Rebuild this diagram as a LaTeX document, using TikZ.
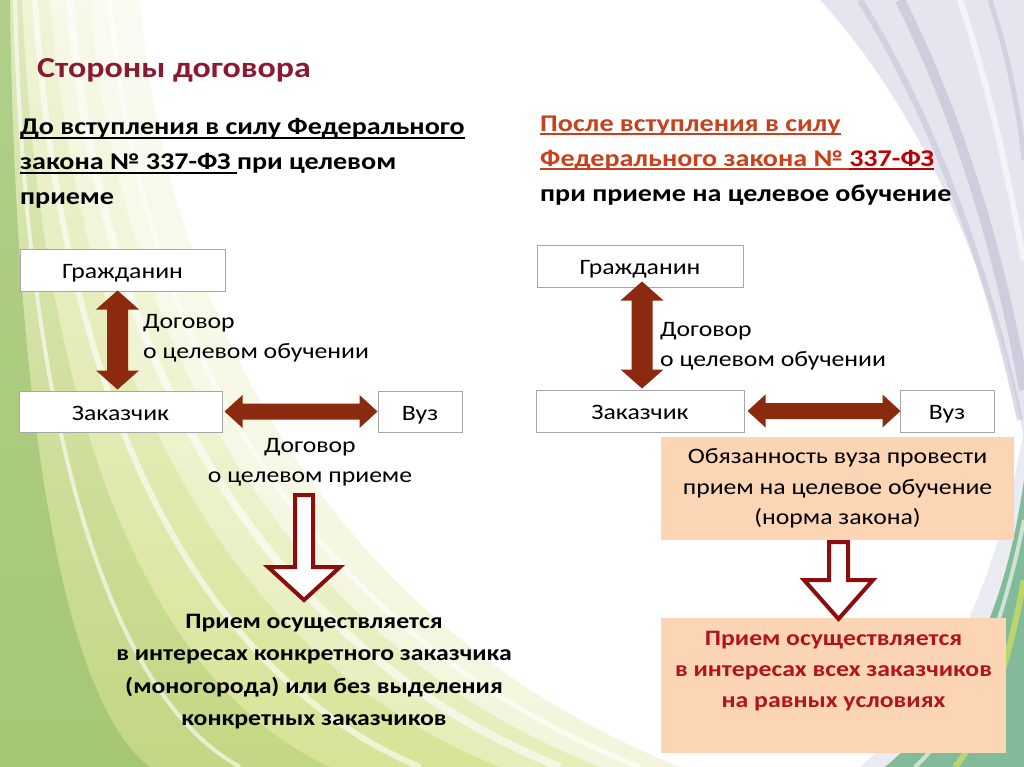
\documentclass[tikz,border=0pt]{standalone}
\usepackage{fontspec}
\setmainfont{Carlito}[FakeStretch=1.17]
\usetikzlibrary{calc}
\definecolor{arrowc}{HTML}{8B2A0E}
\definecolor{hollowc}{HTML}{8B0D0D}
\definecolor{titlec}{HTML}{8B1A30}
\definecolor{orangec}{HTML}{C8401C}
\definecolor{redc}{HTML}{C00000}
\definecolor{darkredc}{HTML}{B0141C}
\definecolor{peach}{HTML}{FCD5B4}
\definecolor{boxline}{HTML}{A6A6A6}
\definecolor{bgA}{HTML}{F3F5DC}
\definecolor{bgB}{HTML}{E4EBB0}
\definecolor{bgC}{HTML}{D3E08A}
\definecolor{bgD}{HTML}{B9D27A}
\definecolor{bgE}{HTML}{93BE6A}
\definecolor{bgL}{HTML}{E3E3EE}
\definecolor{bgLd}{HTML}{C4C4D8}
\definecolor{bgT}{HTML}{6FB38A}
\definecolor{bgY}{HTML}{C8DC60}
\newcommand\myul[1]{\setbox0=\hbox{#1}\leavevmode\rlap{\rule[-4pt]{\wd0}{1.8pt}}\box0}
\tikzset{
  whitebox/.style={draw=boxline, fill=white, line width=1pt, inner sep=0pt,
    text height=20pt, text depth=3pt, font=\fontsize{22}{26}\selectfont},
  peachbox/.style={fill=peach, inner sep=0pt},
  lbl/.style={inner sep=0pt, font=\fontsize{22}{30}\selectfont},
  heading/.style={inner sep=0pt, align=left, font=\fontsize{24}{35}\bfseries\selectfont},
  streak/.style={white, line width=#1, opacity=.6},
}
\newcommand\vdbl[2]{%
  \fill[arrowc] let \p1=#1, \p2=#2 in
   (\x1,\y1) -- (\x1+21.5pt,\y1-19pt) -- (\x1+10.5pt,\y1-19pt) -- (\x1+10.5pt,\y2+19pt)
   -- (\x1+21.5pt,\y2+19pt) -- (\x1,\y2) -- (\x1-21.5pt,\y2+19pt) -- (\x1-10.5pt,\y2+19pt)
   -- (\x1-10.5pt,\y1-19pt) -- (\x1-21.5pt,\y1-19pt) -- cycle;}
\newcommand\hdbl[2]{%
  \fill[arrowc] let \p1=#1, \p2=#2 in
   (\x1,\y1) -- (\x1+18pt,\y1+16.5pt) -- (\x1+18pt,\y1+8pt) -- (\x2-18pt,\y1+8pt)
   -- (\x2-18pt,\y1+16.5pt) -- (\x2,\y1) -- (\x2-18pt,\y1-16.5pt) -- (\x2-18pt,\y1-8pt)
   -- (\x1+18pt,\y1-8pt) -- (\x1+18pt,\y1-16.5pt) -- cycle;}
% #1 top, #2 tip, #3 half head width, #4 half shaft width, #5 head length
\newcommand\hollowarrow[5]{%
  \draw[hollowc, line width=4pt, fill=white, line join=miter] let \p1=#1, \p2=#2 in
   (\x1-#4pt,\y1) -- (\x1+#4pt,\y1) -- (\x1+#4pt,\y2+#5pt) -- (\x1+#3pt,\y2+#5pt)
   -- (\x1,\y2) -- (\x1-#3pt,\y2+#5pt) -- (\x1-#4pt,\y2+#5pt) -- cycle;}
\begin{document}
\begin{tikzpicture}[x=1pt,y=-1pt]
\useasboundingbox (0,0) rectangle (1024,767);
% ---------- background ----------
\fill[white] (0,0) rectangle (1024,767);
\shade[top color=bgA!40!white, bottom color=bgA] (0,0) -- (140,0) .. controls (170,350) and (360,640) .. (680,767) -- (0,767) -- cycle;
\shade[top color=bgB!30!white, bottom color=bgB, opacity=.8] (0,0) -- (90,0) .. controls (120,360) and (300,650) .. (600,767) -- (0,767) -- cycle;
\shade[top color=bgC!40!white, bottom color=bgC, opacity=.7] (0,0) -- (50,0) .. controls (80,380) and (230,660) .. (500,767) -- (0,767) -- cycle;
\shade[top color=bgD!60!white, bottom color=bgD, opacity=.65] (0,0) -- (22,0) .. controls (40,400) and (140,680) .. (330,767) -- (0,767) -- cycle;
\fill[bgE, opacity=.6] (0,0) -- (10,0) .. controls (15,400) and (60,700) .. (150,767) -- (0,767) -- cycle;
\draw[streak=8] (70,0) .. controls (100,370) and (270,650) .. (560,767);
\draw[streak=5] (110,0) .. controls (140,360) and (320,640) .. (640,767);
\draw[streak=6] (35,0) .. controls (60,390) and (190,670) .. (420,767);
\draw[streak=4] (15,0) .. controls (25,400) and (100,690) .. (240,767);
\fill[bgL, opacity=.9] (820,0) -- (1024,0) -- (1024,440) .. controls (1000,300) and (930,120) .. (820,0) -- cycle;
\draw[bgLd, line width=10pt, opacity=.7] (900,0) .. controls (975,150) and (1008,300) .. (1024,390);
\draw[bgLd, line width=6pt, opacity=.6] (860,0) .. controls (940,130) and (990,280) .. (1020,420);
\draw[bgLd, line width=5pt, opacity=.6] (990,0) .. controls (1010,60) and (1020,120) .. (1024,160);
\draw[streak=6] (960,0) .. controls (1000,120) and (1015,220) .. (1024,260);
\fill[bgL, opacity=.7] (1024,430) .. controls (1000,560) and (960,680) .. (860,767) -- (1024,767) -- cycle;
\fill[bgT, opacity=.85] (1024,480) .. controls (1005,610) and (965,700) .. (885,767) -- (1024,767) -- cycle;
\draw[bgY, line width=6pt, opacity=.8] (1024,580) .. controls (1005,680) and (985,730) .. (955,767);
\draw[streak=4] (1024,520) .. controls (1000,640) and (965,720) .. (915,767);
% ---------- title and headings ----------
\node[anchor=base west, inner sep=0pt, text=titlec, font=\fontsize{29}{32}\bfseries\selectfont] (title) at (37,78) {Стороны договора};
\node[heading, anchor=north west] (hl) at (20,118.5)
  {\myul{До вступления в силу Федерального}\\\myul{закона № 337-ФЗ }при целевом\\приеме};
\node[heading, anchor=north west] (hr) at (540,115.5)
  {\color{orangec}\myul{После вступления в силу}\\{\color{orangec}\myul{Федерального закона № }}{\color{redc}\myul{337-ФЗ}}\\при приеме на целевое обучение};
% ---------- left scheme ----------
\node[whitebox, minimum width=205, minimum height=42] (g1) at (122.5,270) {Гражданин};
\node[whitebox, minimum width=203, minimum height=41] (z1) at (120.5,411.5) {Заказчик};
\node[whitebox, minimum width=84, minimum height=41] (v1) at (420,411.5) {Вуз};
\vdbl{($(g1.south)+(-5,-1)$)}{($(z1.north)+(-3,-1)$)}
\hdbl{($(z1.east)+(2,0)$)}{($(v1.west)+(0,0)$)}
\node[lbl, anchor=north west, align=left] (c1) at (143,314.5) {Договор\\о целевом обучении};
\node[lbl, anchor=north, align=center] (c2) at (310,438.5) {Договор\\о целевом приеме};
\node[inner sep=0pt, align=center, font=\fontsize{22}{32.3}\bfseries\selectfont] (r1) at (314,671.5)
  {Прием осуществляется\\в интересах конкретного заказчика\\(моногорода) или без выделения\\конкретных заказчиков};
\coordinate (d1a) at (304,495);
\coordinate (d1b) at (304,600);
\hollowarrow{(d1a)}{(d1b)}{36}{9}{33}
% ---------- right scheme ----------
\node[whitebox, minimum width=206, minimum height=42] (g2) at (640,266) {Гражданин};
\node[whitebox, minimum width=208, minimum height=42] (z2) at (640,411) {Заказчик};
\node[whitebox, minimum width=94, minimum height=42] (v2) at (947,411) {Вуз};
\vdbl{($(g2.south)+(2,-6)$)}{($(z2.north)+(2,-1)$)}
\hdbl{($(z2.east)+(3,0)$)}{($(v2.west)+(1,0)$)}
\node[lbl, anchor=north west, align=left] (c3) at (660,322.5) {Договор\\о целевом обучении};
\node[peachbox, minimum width=353, minimum height=103] (o1) at (837.5,488.5) {};
\node[inner sep=0pt, align=center, font=\fontsize{22}{30.5}\selectfont] (o1t) at (o1.center) {Обязанность вуза провести\\прием на целевое обучение\\(норма закона)};
\node[peachbox, minimum width=345, minimum height=135, anchor=north] (o2) at (833.5,618) {};
\node[inner sep=0pt, align=center, text=darkredc, font=\fontsize{22}{31}\bfseries\selectfont] (o2t) at (833.5,671) {Прием осуществляется\\в интересах всех заказчиков\\на равных условиях};
\hollowarrow{($(o1.south)+(1,2)$)}{($(o2.north)+(0,1)$)}{34.5}{9.5}{39}
\end{tikzpicture}
\end{document}
